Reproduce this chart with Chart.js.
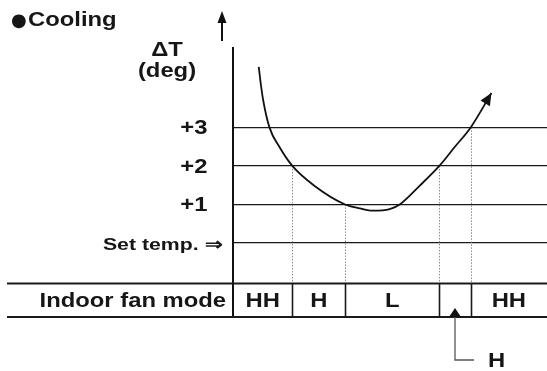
<!DOCTYPE html>
<html>
<head>
<meta charset="utf-8">
<script src="https://cdn.jsdelivr.net/npm/chart.js@4/dist/chart.umd.min.js"></script>
<style>
  html, body { margin: 0; padding: 0; background: #fff; }
  canvas { display: block; }
</style>
</head>
<body>
<canvas id="c" width="547" height="371"></canvas>
<script>
// ---- data ----
const curveX = [8.2, 8.9, 9.6, 11.6, 14.8, 18.9, 26.0, 35.7, 40.4, 44.5, 49.9, 53.1, 59.5, 65.7, 70.6, 75.7, 82.3];
const curveY = [4.57, 4.10, 3.71, 3.00, 2.49, 2.00, 1.48, 1.00, 0.90, 0.84, 0.88, 1.00, 1.49, 2.00, 2.49, 3.00, 3.89];
const levelValues = [0, 1, 2, 3];
const levelLabels = ['Set temp. \u21D2', '+1', '+2', '+3'];
const boundaryX = [18.9, 35.7, 65.7, 75.7];
const boundaryLevel = [2, 1, 2, 3];
const fanModes = ['HH', 'H', 'L', 'H', 'HH'];
const calloutIndex = 3;
const titleBullet = '\u25CF';
const titleText = 'Cooling';
const axisTitle = ['\u0394T', '(deg)'];
const rowTitle = 'Indoor fan mode';

const SX = 1.19;
const FONT = "'Liberation Sans', Arial, Helvetica, sans-serif";
const INK = '#161616';

function txt(ctx, s, x, y, align, size, baseline, sx, family) {
  ctx.save();
  ctx.font = 'bold ' + size + 'px ' + (family || FONT);
  ctx.fillStyle = INK;
  ctx.textAlign = align;
  ctx.textBaseline = baseline || 'alphabetic';
  ctx.translate(x, y);
  ctx.scale(sx || SX, 1);
  ctx.fillText(s, 0, 0);
  ctx.restore();
}

const decor = {
  id: 'decor',
  beforeDatasetsDraw(chart) {
    const ctx = chart.ctx, xs = chart.scales.x, ys = chart.scales.y;
    const tableTop = chart.chartArea.bottom - 33.5;
    ctx.save();
    ctx.strokeStyle = '#8a8a8a';
    ctx.lineWidth = 1;
    ctx.setLineDash([1.5, 1.5]);
    boundaryX.forEach((bx, i) => {
      const px = Math.round(xs.getPixelForValue(bx)) + 0.5;
      ctx.beginPath();
      ctx.moveTo(px, ys.getPixelForValue(boundaryLevel[i]));
      ctx.lineTo(px, tableTop);
      ctx.stroke();
    });
    ctx.restore();
  },
  afterDraw(chart) {
    const ctx = chart.ctx, xs = chart.scales.x, ys = chart.scales.y, ca = chart.chartArea;
    const tableBottom = ca.bottom;
    const tableTop = ca.bottom - 33.5;
    ctx.save();
    // table rows
    ctx.strokeStyle = '#1a1a1a';
    ctx.lineWidth = 2;
    [tableTop, tableBottom].forEach(y => {
      ctx.beginPath(); ctx.moveTo(7, y); ctx.lineTo(547, y); ctx.stroke();
    });
    ctx.lineWidth = 1.6;
    boundaryX.forEach(bx => {
      const px = Math.round(xs.getPixelForValue(bx)) + 0.5;
      ctx.beginPath(); ctx.moveTo(px, tableTop); ctx.lineTo(px, tableBottom); ctx.stroke();
    });
    // cell labels
    const edges = [xs.min].concat(boundaryX, [xs.max]);
    const baseY = (tableTop + tableBottom) / 2 + 7;
    fanModes.forEach((m, i) => {
      const a = xs.getPixelForValue(edges[i]), b = xs.getPixelForValue(edges[i + 1]);
      const cx = (a + b) / 2;
      if (i === calloutIndex) {
        ctx.fillStyle = '#111';
        ctx.beginPath();
        ctx.moveTo(cx, tableBottom - 9);
        ctx.lineTo(cx - 6, tableBottom);
        ctx.lineTo(cx + 6, tableBottom);
        ctx.closePath(); ctx.fill();
        ctx.strokeStyle = '#555';
        ctx.lineWidth = 1.3;
        ctx.beginPath();
        ctx.moveTo(cx, tableBottom);
        ctx.lineTo(cx, 360);
        ctx.lineTo(cx + 19, 360);
        ctx.stroke();
        txt(ctx, m, cx + 33, 367, 'left', 20);
      } else {
        txt(ctx, m, cx, baseY, 'center', 20);
      }
    });
    txt(ctx, rowTitle, 226, baseY, 'right', 20);
    // level labels
    levelValues.forEach((v, i) => {
      const py = ys.getPixelForValue(v);
      if (v === 0) txt(ctx, levelLabels[i], 222, py + 2, 'right', 17, 'middle', 1.25);
      else txt(ctx, levelLabels[i], 207.5, py + 1.5, 'right', 20, 'middle');
    });
    // axis title
    txt(ctx, axisTitle[0], 167, 55.5, 'center', 20);
    txt(ctx, axisTitle[1], 167, 77, 'center', 20);
    // title
    txt(ctx, titleBullet, 11, 26, 'left', 18, 'alphabetic', 1, "'DejaVu Sans', sans-serif");
    txt(ctx, titleText, 28, 26, 'left', 20);
    // up arrow
    ctx.strokeStyle = '#111'; ctx.fillStyle = '#111'; ctx.lineWidth = 2;
    ctx.beginPath(); ctx.moveTo(222, 41); ctx.lineTo(222, 20); ctx.stroke();
    ctx.beginPath(); ctx.moveTo(222, 11); ctx.lineTo(217.5, 23); ctx.lineTo(226.5, 23); ctx.closePath(); ctx.fill();
    // curve arrowhead
    const n = curveX.length;
    const x1 = xs.getPixelForValue(curveX[n - 1]), y1 = ys.getPixelForValue(curveY[n - 1]);
    const x0 = xs.getPixelForValue(curveX[n - 2]), y0 = ys.getPixelForValue(curveY[n - 2]);
    const ang = Math.atan2(y1 - y0, x1 - x0);
    const L = 12, W = 5.5;
    ctx.beginPath();
    ctx.moveTo(x1, y1);
    ctx.lineTo(x1 - L * Math.cos(ang) + W * Math.sin(ang), y1 - L * Math.sin(ang) - W * Math.cos(ang));
    ctx.lineTo(x1 - L * Math.cos(ang) - W * Math.sin(ang), y1 - L * Math.sin(ang) + W * Math.cos(ang));
    ctx.closePath(); ctx.fill();
    ctx.restore();
  }
};

new Chart(document.getElementById('c'), {
  type: 'line',
  data: {
    datasets: [{
      data: curveX.map((x, i) => ({ x: x, y: curveY[i] })),
      borderColor: '#111',
      borderWidth: 1.8,
      pointRadius: 0,
      fill: false,
      cubicInterpolationMode: 'monotone'
    }]
  },
  options: {
    responsive: false,
    animation: false,
    events: [],
    layout: { padding: { left: 233, top: 48, bottom: 54, right: 0 } },
    plugins: { legend: { display: false }, tooltip: { enabled: false } },
    scales: {
      x: { type: 'linear', min: 0, max: 100, display: false },
      y: {
        type: 'linear', min: -1.92, max: 5.06,
        afterBuildTicks: axis => { axis.ticks = levelValues.map(v => ({ value: v })); },
        ticks: { display: false },
        grid: { color: '#1a1a1a', lineWidth: 1.3, drawTicks: false },
        border: { display: true, color: '#111', width: 2 }
      }
    }
  },
  plugins: [decor]
});
</script>
</body>
</html>
